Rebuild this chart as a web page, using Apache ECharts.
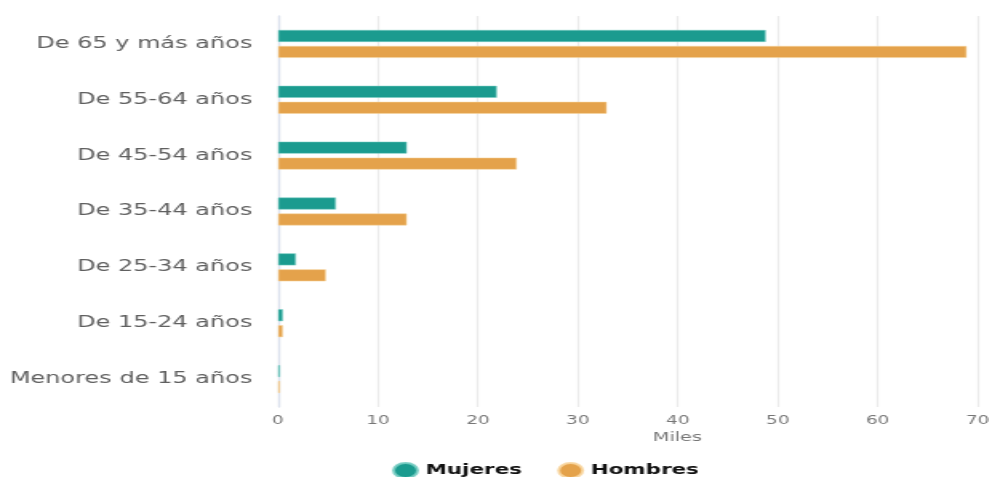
<!DOCTYPE html>
<html>
<head>
<meta charset="utf-8">
<script src="https://cdn.jsdelivr.net/npm/echarts@6/dist/echarts.min.js"></script>
<style>
  html, body { margin: 0; padding: 0; background: #fff; overflow: hidden; }
  /* the reference is a horizontally stretched render, so draw narrow and stretch */
  #chart { width: 618px; height: 477px; transform: scaleX(1.6); transform-origin: 0 0; }
</style>
</head>
<body>
<div id="chart"></div>
<script>
const CATEGORIES = [
  'De 65 y más años',
  'De 55-64 años',
  'De 45-54 años',
  'De 35-44 años',
  'De 25-34 años',
  'De 15-24 años',
  'Menores de 15 años',
]
const MUJERES = [48.8, 21.9, 12.9, 5.8, 1.8, 0.5, 0.2]
const HOMBRES = [68.9, 32.9, 23.9, 12.9, 4.8, 0.5, 0.2]
const X_MIN = 0
const X_MAX = 70
const X_INTERVAL = 10

const MUJERES_COLOR = '#1b9b8f'
const HOMBRES_COLOR = '#e4a24b'
const FONT = 'DejaVu Sans'

const chart = echarts.init(document.getElementById('chart'))
chart.setOption({
  animation: false,
  textStyle: { fontFamily: FONT },
  grid: {
    top: 16,
    left: 173.75,
    right: 6.9,
    bottom: 70,
    containLabel: false,
    outerBoundsMode: 'none',
  },
  legend: {
    left: 240,
    top: 457,
    icon: 'circle',
    itemWidth: 15,
    itemHeight: 15,
    itemGap: 22,
    textStyle: {
      color: '#111',
      fontFamily: FONT,
      fontWeight: 'bold',
      fontSize: 13.4,
    },
    data: ['Mujeres', 'Hombres'],
  },
  xAxis: {
    type: 'value',
    min: X_MIN,
    max: X_MAX,
    interval: X_INTERVAL,
    name: 'Miles',
    nameLocation: 'middle',
    nameGap: 24,
    nameTextStyle: {
      color: '#777',
      fontSize: 12,
      padding: [0, 0, 0, 62],
    },
    axisLine: { show: false },
    axisTick: { show: false },
    axisLabel: {
      color: '#777',
      fontSize: 11.5,
      margin: 8,
    },
    splitLine: {
      lineStyle: { color: '#ebebeb', width: 1.3 },
    },
  },
  yAxis: {
    type: 'category',
    inverse: true,
    data: CATEGORIES,
    axisLine: {
      show: true,
      lineStyle: { color: '#dce2ee', width: 1.3 },
    },
    axisTick: { show: false },
    axisLabel: {
      color: '#606060',
      fontSize: 15,
      margin: 16,
    },
  },
  series: [
    {
      name: 'Mujeres',
      type: 'bar',
      data: MUJERES,
      barWidth: 12,
      barGap: '33%',
      itemStyle: {
        color: MUJERES_COLOR,
        borderColor: 'rgba(120, 205, 195, 0.9)',
        borderWidth: 0.6,
      },
    },
    {
      name: 'Hombres',
      type: 'bar',
      data: HOMBRES,
      barWidth: 12,
      barGap: '33%',
      itemStyle: {
        color: HOMBRES_COLOR,
        borderColor: 'rgba(248, 214, 160, 0.9)',
        borderWidth: 0.6,
      },
    },
  ],
})
</script>
</body>
</html>
